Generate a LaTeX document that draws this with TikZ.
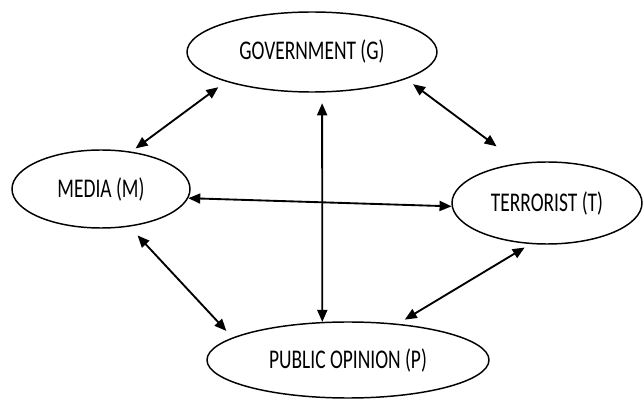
\documentclass[tikz,border=0pt]{standalone}
\usepackage{fontspec}
\setmainfont{Carlito}
\usetikzlibrary{shapes.geometric,arrows.meta}
\newcommand{\lbl}[1]{\scalebox{0.72}[1]{#1}}

\begin{document}
\begin{tikzpicture}[x=0.75pt,y=0.75pt,yscale=-1,xscale=1,
  actor/.style={draw,ellipse,line width=1.1pt,inner sep=0pt,font=\fontsize{20.25}{24}\selectfont},
  link/.style={{Triangle[length=9pt,width=7.5pt]}-{Triangle[length=9pt,width=7.5pt]},line width=1.4pt}]
\useasboundingbox (0,0) rectangle (644,399);
\node[actor,minimum width=187.5pt,minimum height=60pt] (G) at (312,52) {\lbl{GOVERNMENT (G)}};
\node[actor,minimum width=133.5pt,minimum height=58.5pt] (M) at (101,189) {\lbl{MEDIA (M)}};
\node[actor,minimum width=142.5pt,minimum height=61.5pt] (T) at (547,203) {\lbl{TERRORIST (T)}};
\node[actor,minimum width=211.5pt,minimum height=57pt] (P) at (348,360) {\lbl{PUBLIC OPINION (P)}};
\draw[link,shorten <=4pt,shorten >=7pt] (M.51) -- (G.199);
\draw[link,shorten <=6.5pt,shorten >=21pt] (G.344) -- (T.125);
\draw[link] (M.354) -- (T.182);
\draw[link,shorten <=8pt] (G.284) -- (P.124);
\draw[link,shorten <=9pt,shorten >=6.75pt] (M.307) -- (P.169);
\draw[link,shorten <=6pt,shorten >=5pt] (P.36) -- (T.248);
\end{tikzpicture}
\end{document}
